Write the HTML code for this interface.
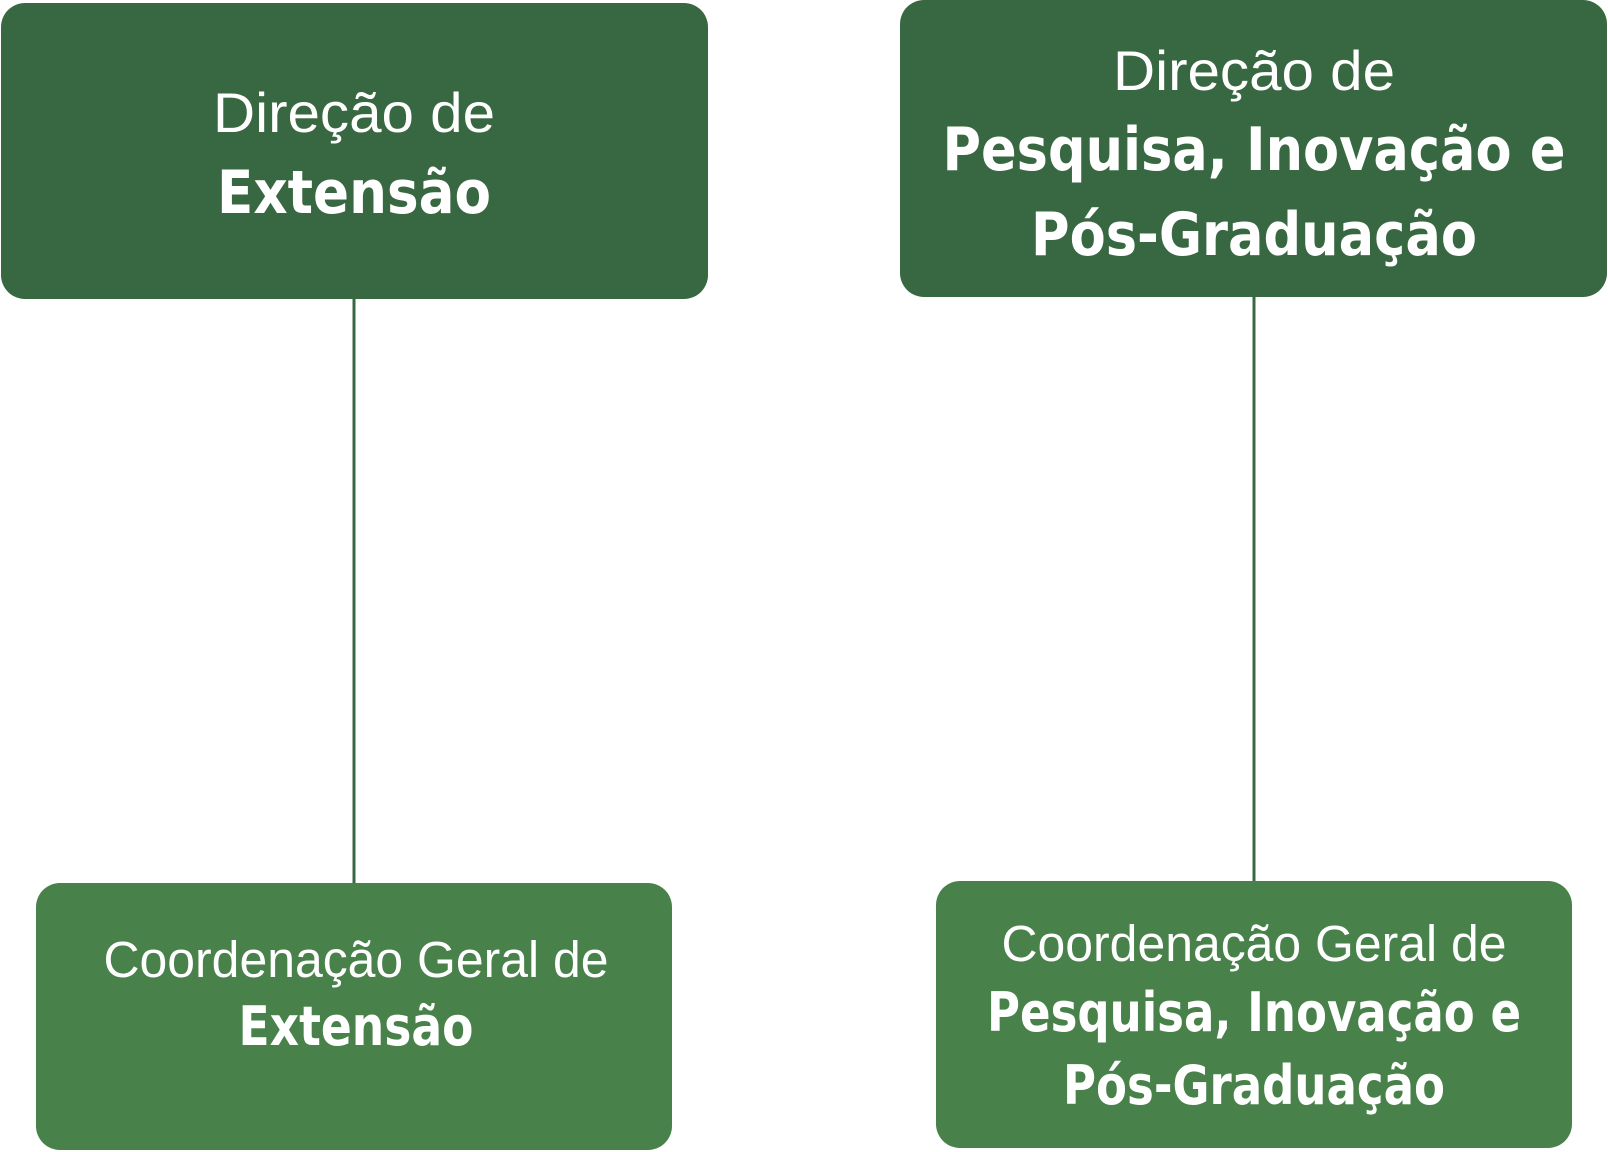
<!DOCTYPE html>
<html><head><meta charset="utf-8"><style>
html,body{margin:0;padding:0;background:#fff;}
svg{display:block;}
.r{font-family:"Liberation Sans",sans-serif;fill:#fff;}
.b{font-family:"DejaVu Sans","Liberation Sans",sans-serif;font-weight:bold;fill:#fff;}
</style></head><body>
<svg width="1608" height="1152" viewBox="0 0 1608 1152" xmlns="http://www.w3.org/2000/svg">
<line x1="354" y1="299" x2="354" y2="884" stroke="#386841" stroke-width="3"/>
<line x1="1254" y1="297" x2="1254" y2="882" stroke="#386841" stroke-width="3"/>
<rect x="1" y="3" width="707" height="296" rx="24" fill="#386841"/>
<rect x="900" y="0" width="707" height="297" rx="24" fill="#386841"/>
<rect x="36" y="883" width="636" height="267" rx="24" fill="#48814a"/>
<rect x="936" y="881" width="636" height="267" rx="24" fill="#48814a"/>

<text class="r" x="354" y="132" font-size="56" text-anchor="middle" textLength="282" lengthAdjust="spacingAndGlyphs">Direção de</text>
<text class="b" x="354" y="213" font-size="60" text-anchor="middle" textLength="274" lengthAdjust="spacingAndGlyphs">Extensão</text>

<text class="r" x="1254" y="90" font-size="56" text-anchor="middle" textLength="282" lengthAdjust="spacingAndGlyphs">Direção de</text>
<text class="b" x="1254" y="170" font-size="60" text-anchor="middle" textLength="623" lengthAdjust="spacingAndGlyphs">Pesquisa, Inovação e</text>
<text class="b" x="1254" y="255" font-size="60" text-anchor="middle" textLength="446" lengthAdjust="spacingAndGlyphs">Pós-Graduação</text>

<text class="r" x="356" y="977" font-size="51" text-anchor="middle" textLength="505" lengthAdjust="spacingAndGlyphs">Coordenação Geral de</text>
<text class="b" x="356" y="1045" font-size="54" text-anchor="middle" textLength="235" lengthAdjust="spacingAndGlyphs">Extensão</text>

<text class="r" x="1254" y="961" font-size="51" text-anchor="middle" textLength="505" lengthAdjust="spacingAndGlyphs">Coordenação Geral de</text>
<text class="b" x="1254" y="1031" font-size="54" text-anchor="middle" textLength="534" lengthAdjust="spacingAndGlyphs">Pesquisa, Inovação e</text>
<text class="b" x="1254" y="1104" font-size="54" text-anchor="middle" textLength="382" lengthAdjust="spacingAndGlyphs">Pós-Graduação</text>
</svg>
</body></html>
